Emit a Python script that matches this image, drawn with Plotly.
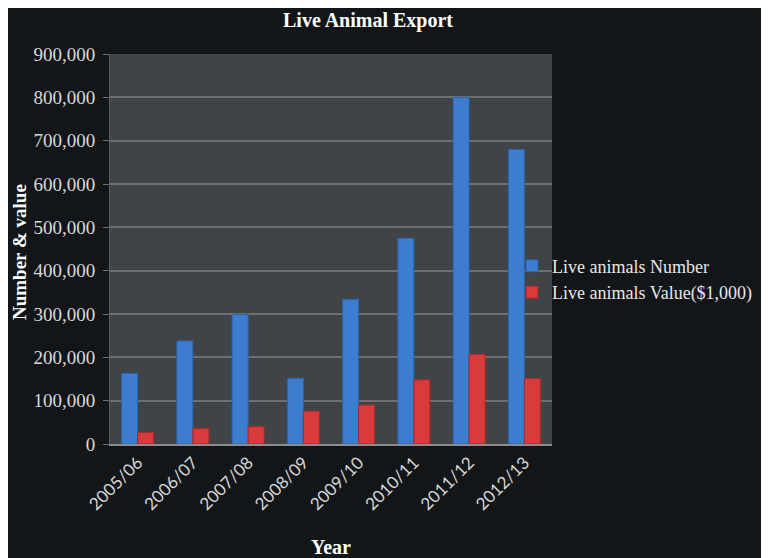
import plotly.graph_objects as go

years = ["2005/06", "2006/07", "2007/08", "2008/09", "2009/10", "2010/11", "2011/12", "2012/13"]
live_number = [163000, 238000, 299000, 152000, 334000, 475000, 800000, 680000]
live_value = [27000, 36000, 40000, 76000, 90000, 148000, 207000, 151000]

W, H = 769, 558
OFF_X, OFF_Y = 8, 8  # page body margin
L, R, T, B = 102, 225, 46, 122
PW, PH = W - L - R, H - T - B


def px(x):
    # x given in screen pixels
    return (x - OFF_X - L) / PW


def py(y):
    return (H - B - (y - OFF_Y)) / PH


SERIF = "Liberation Serif, Times New Roman, serif"

fig = go.Figure()
fig.add_trace(go.Bar(
    x=years, y=live_number, name="Live animals Number",
    marker=dict(color="#3c7dcf", line=dict(color="#2c62a8", width=1)),
))
fig.add_trace(go.Bar(
    x=years, y=live_value, name="Live animals Value($1,000)",
    marker=dict(color="#d83b3b", line=dict(color="#a82828", width=1)),
))

fig.update_layout(
    width=W, height=H, autosize=False,
    margin=dict(l=L, r=R, t=T, b=B),
    paper_bgcolor="#121619",
    plot_bgcolor="#414447",
    barmode="group", bargap=0.42, bargroupgap=0,
    showlegend=True,
    legend=dict(
        x=px(512), y=py(279), xanchor="left", yanchor="middle",
        bgcolor="rgba(0,0,0,0)",
        font=dict(family=SERIF, size=18, color="#e6e6e6"),
        itemwidth=30, tracegroupgap=0,
    ),
    xaxis=dict(
        tickangle=-45,
        tickfont=dict(family="Lato, Open Sans, sans-serif", size=17, color="#d6d6d6"),
        showline=True, linecolor="#8c8c8c", linewidth=2,
        showgrid=False, ticks="", fixedrange=True,
    ),
    yaxis=dict(
        range=[0, 900000], dtick=100000, tickformat=",d",
        tickfont=dict(family=SERIF, size=19, color="#d9d9d9"),
        gridcolor="#6d7073", gridwidth=1.5,
        showline=True, linecolor="#5a5d60", linewidth=1,
        ticks="outside", ticklen=6, tickcolor="#6d7073",
        zeroline=False, ticklabelstandoff=4,
    ),
    annotations=[
        dict(text="<b>Live Animal Export</b>", xref="paper", yref="paper",
             x=px(368), y=py(20), xanchor="center", yanchor="middle",
             showarrow=False, font=dict(family=SERIF, size=20, color="#ffffff")),
        dict(text="<b>Number &amp; value</b>", xref="paper", yref="paper",
             x=px(19), y=py(252), xanchor="center", yanchor="middle", textangle=-90,
             showarrow=False, font=dict(family=SERIF, size=19, color="#ffffff")),
        dict(text="<b>Year</b>", xref="paper", yref="paper",
             x=px(331), y=py(547), xanchor="center", yanchor="middle",
             showarrow=False, font=dict(family=SERIF, size=20, color="#ffffff")),
    ],
)

fig.write_html("out.html")
